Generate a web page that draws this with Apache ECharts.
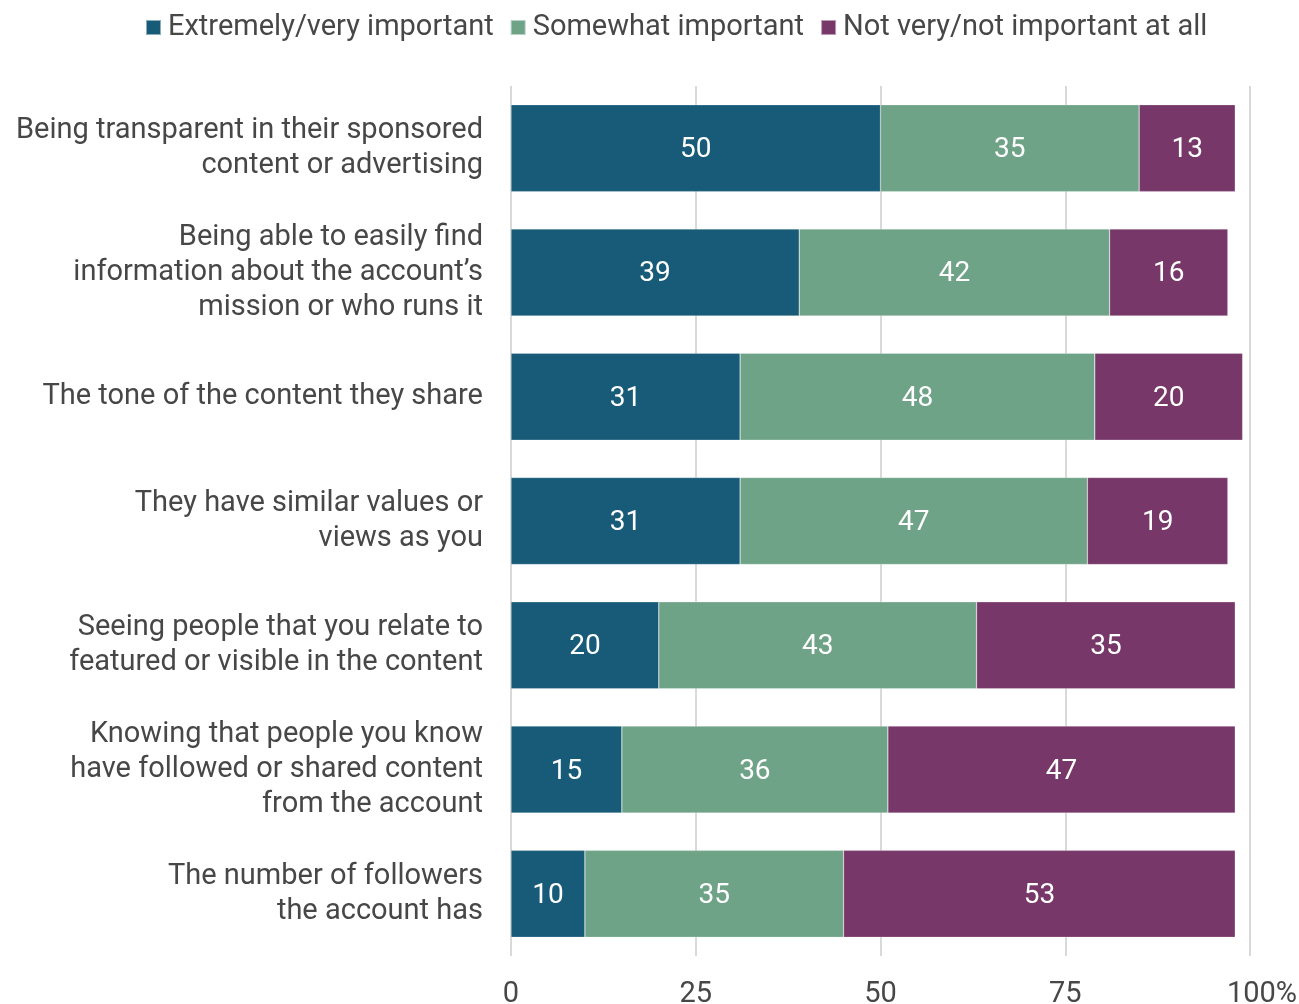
<!DOCTYPE html>
<html>
<head>
<meta charset="utf-8">
<script src="https://cdn.jsdelivr.net/npm/echarts@6/dist/echarts.min.js"></script>
<style>
  html, body { margin: 0; padding: 0; background: #fff; }
  #chart { width: 1299px; height: 1004px; }
</style>
</head>
<body>
<div id="chart"></div>
<script>
// Survey items (top to bottom)
const categories = [
  'Being transparent in their sponsored\ncontent or advertising',
  'Being able to easily find\ninformation about the account\u2019s\nmission or who runs it',
  'The tone of the content they share',
  'They have similar values or\nviews as you',
  'Seeing people that you relate to\nfeatured or visible in the content',
  'Knowing that people you know\nhave followed or shared content\nfrom the account',
  'The number of followers\nthe account has'
];
const seriesNames = ['Extremely/very important', 'Somewhat important', 'Not very/not important at all'];
const veryImportant = [50, 39, 31, 31, 20, 15, 10];
const somewhatImportant = [35, 42, 48, 47, 43, 36, 35];
const notImportant = [13, 16, 20, 19, 35, 47, 53];
const xTicks = [0, 25, 50, 75, 100];

const colors = ['#175b79', '#6fa387', '#773768'];
const textColor = '#474747';
const fontFamily = 'Roboto, "Noto Sans", sans-serif';
const fontSize = 29;

const chart = echarts.init(document.getElementById('chart'));

function barSeries(name, data, color) {
  return {
    name: name,
    type: 'bar',
    stack: 'total',
    barCategoryGap: '30%',
    data: data,
    itemStyle: { color: color, borderColor: 'rgba(255,255,255,0.5)', borderWidth: 0.5 },
    label: {
      show: true,
      position: 'inside',
      offset: [0, 2],
      color: '#ffffff',
      fontSize: 28,
      fontFamily: fontFamily
    }
  };
}

chart.setOption({
  animation: false,
  textStyle: { fontFamily: fontFamily },
  legend: {
    top: 8,
    left: 140,
    itemWidth: 15,
    itemHeight: 15,
    itemGap: 16,
    icon: 'rect',
    textStyle: { fontSize: fontSize, color: textColor, fontFamily: fontFamily, padding: [0, 0, 0, 2] },
    data: seriesNames
  },
  grid: { left: 511, right: 49, top: 86, bottom: 48, containLabel: false, outerBoundsMode: 'none' },
  xAxis: {
    type: 'value',
    min: 0,
    max: 100,
    interval: 25,
    axisLine: { show: false },
    axisTick: { show: false },
    splitLine: { show: true, lineStyle: { color: '#d9d9d9', width: 2 } },
    axisLabel: {
      margin: 24,
      fontSize: fontSize,
      color: textColor,
      fontFamily: fontFamily,
      // keep the number centred on its tick, with the % sign hanging to the right
      formatter: v => (v === 100 ? '{pad|}100%' : String(v)),
      rich: {
        pad: { width: 24, fontSize: fontSize }
      }
    }
  },
  yAxis: {
    type: 'category',
    inverse: true,
    data: categories,
    axisLine: { show: false },
    axisTick: { show: false },
    axisLabel: {
      margin: 28,
      fontSize: fontSize,
      lineHeight: 35,
      padding: [3, 0, 0, 0],
      color: textColor,
      align: 'right',
      fontFamily: fontFamily
    }
  },
  series: [
    barSeries(seriesNames[0], veryImportant, colors[0]),
    barSeries(seriesNames[1], somewhatImportant, colors[1]),
    barSeries(seriesNames[2], notImportant, colors[2])
  ]
});
</script>
</body>
</html>
